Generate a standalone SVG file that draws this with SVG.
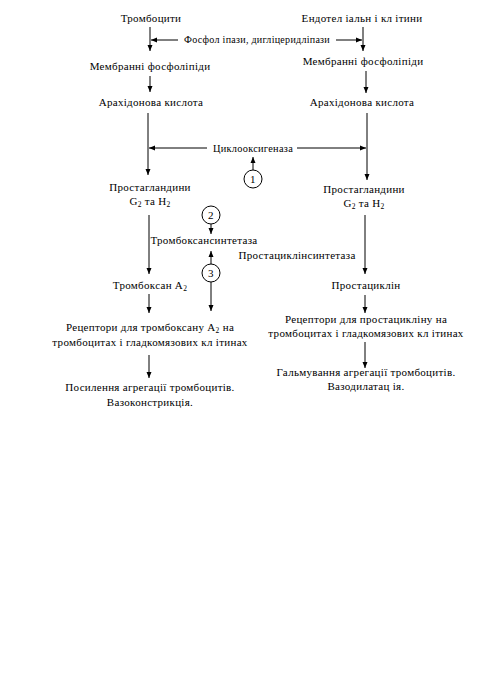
<svg xmlns="http://www.w3.org/2000/svg" width="501" height="697" viewBox="0 0 501 697">
<defs>
<marker id="ah" viewBox="0 0 6 6" refX="6" refY="3" markerWidth="6" markerHeight="6" markerUnits="userSpaceOnUse" orient="auto">
<path d="M0,0.5 L6,3 L0,5.5 Z" fill="#000"/>
</marker>
</defs>
<style>
text{font-family:"Liberation Serif","Times New Roman",serif;font-size:11px;letter-spacing:0.3px;fill:#000;text-anchor:middle}
.sub{font-size:7.5px}
line{stroke:#000;stroke-width:1}
.a{marker-end:url(#ah)}
circle{fill:#fff;stroke:#000;stroke-width:1}
</style>
<rect width="501" height="697" fill="#fff"/>
<g id="connectors">
<line class="a" x1="150" y1="27" x2="150" y2="51"/>
<line class="a" x1="178" y1="40" x2="151" y2="40"/>
<line class="a" x1="363" y1="27" x2="363" y2="51"/>
<line class="a" x1="336" y1="40" x2="362" y2="40"/>
<line class="a" x1="150" y1="76" x2="150" y2="92"/>
<line class="a" x1="366" y1="71" x2="366" y2="93"/>
<line class="a" x1="148" y1="113" x2="148" y2="175"/>
<line class="a" x1="207" y1="148" x2="149" y2="148"/>
<line class="a" x1="367" y1="113" x2="367" y2="180"/>
<line class="a" x1="297" y1="148" x2="366" y2="148"/>
<line class="a" x1="253" y1="170" x2="253" y2="157"/>
<line class="a" x1="211" y1="224" x2="211" y2="234"/>
<line class="a" x1="149" y1="215" x2="149" y2="274"/>
<line class="a" x1="365" y1="215" x2="365" y2="274"/>
<line class="a" x1="211" y1="264" x2="211" y2="251"/>
<line class="a" x1="211" y1="282" x2="211" y2="311"/>
<line class="a" x1="149" y1="294" x2="149" y2="313"/>
<line class="a" x1="149" y1="355" x2="149" y2="378"/>
<line class="a" x1="365" y1="295" x2="365" y2="313"/>
<line class="a" x1="365" y1="342" x2="365" y2="368"/>
</g>
<g id="trombocyty"><text x="151" y="22">Тромбоцити</text></g>
<g id="endotel"><text x="362" y="22">Ендотел іальн і кл ітини</text></g>
<g id="fosfolipazy"><text x="257" y="43" textLength="146" lengthAdjust="spacingAndGlyphs">Фосфол іпази, дигліцеридліпази</text></g>
<g id="membr-left"><text x="150" y="70">Мембранні фосфоліпіди</text></g>
<g id="membr-right"><text x="363" y="65">Мембранні фосфоліпіди</text></g>
<g id="arach-left"><text x="151" y="106">Арахідонова кислота</text></g>
<g id="arach-right"><text x="362" y="106">Арахідонова кислота</text></g>
<g id="cyclooxygenase"><text x="253" y="152" textLength="80" lengthAdjust="spacingAndGlyphs">Циклооксигеназа</text></g>
<g id="c1"><circle cx="253" cy="179" r="9"/><text x="253" y="183">1</text></g>
<g id="pg-left"><text x="150" y="191">Простагландини</text><text x="150" y="205">G<tspan class="sub" dy="2">2</tspan><tspan dy="-2"> та H</tspan><tspan class="sub" dy="2">2</tspan></text></g>
<g id="pg-right"><text x="364" y="193">Простагландини</text><text x="364" y="207">G<tspan class="sub" dy="2">2</tspan><tspan dy="-2"> та H</tspan><tspan class="sub" dy="2">2</tspan></text></g>
<g id="c2"><circle cx="211" cy="215" r="9"/><text x="211" y="219">2</text></g>
<g id="txsynthase"><text x="204" y="244">Тромбоксансинтетаза</text></g>
<g id="pgisynthase"><text x="297" y="259">Простациклінсинтетаза</text></g>
<g id="c3"><circle cx="211" cy="273" r="9"/><text x="211" y="277">3</text></g>
<g id="txa2"><text x="150" y="289">Тромбоксан А<tspan class="sub" dy="2">2</tspan></text></g>
<g id="prostacyclin"><text x="366" y="289">Простациклін</text></g>
<g id="rec-left"><text x="150" y="331">Рецептори для тромбоксану А<tspan class="sub" dy="2">2</tspan><tspan dy="-2">  на</tspan></text><text x="150" y="346">тромбоцитах і гладкомязових кл  ітинах</text></g>
<g id="rec-right"><text x="366" y="323">Рецептори для простацикліну на</text><text x="366" y="337">тромбоцитах і гладкомязових кл  ітинах</text></g>
<g id="effect-left"><text x="150" y="391">Посилення агрегації тромбоцитів.</text><text x="150" y="406">Вазоконстрикція.</text></g>
<g id="effect-right"><text x="366" y="376">Гальмування агрегації тромбоцитів.</text><text x="366" y="390">Вазодилатац ія.</text></g>
</svg>
